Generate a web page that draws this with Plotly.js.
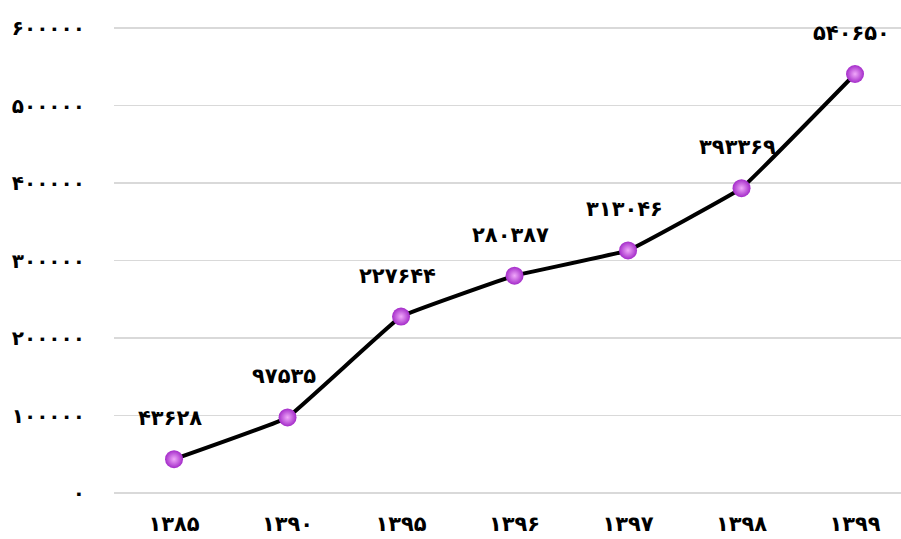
<!DOCTYPE html>
<html>
<head>
<meta charset="utf-8">
<script src="https://cdn.plot.ly/plotly-3.0.1.min.js"></script>
<style>html,body{margin:0;padding:0;background:#fff;}#chart{width:901px;height:539px;}</style>
</head>
<body>
<div id="chart"></div>
<script>
const years = ["۱۳۸۵", "۱۳۹۰", "۱۳۹۵", "۱۳۹۶", "۱۳۹۷", "۱۳۹۸", "۱۳۹۹"];
const values = [43628, 97535, 227644, 280387, 313046, 393369, 540650];
const yTickVals = [0, 100000, 200000, 300000, 400000, 500000, 600000];
const yTickText = ["۰", "۱۰۰۰۰۰", "۲۰۰۰۰۰", "۳۰۰۰۰۰", "۴۰۰۰۰۰", "۵۰۰۰۰۰", "۶۰۰۰۰۰"];

const fa = n => String(n).replace(/[0-9]/g, d => "۰۱۲۳۴۵۶۷۸۹"[+d]);
const FONT = "DejaVu Sans";

const trace = {
  x: years,
  y: values,
  type: "scatter",
  mode: "lines+markers",
  line: {color: "#000000", width: 4, shape: "spline", smoothing: 0.2},
  marker: {size: 18, color: "#a42bc9", gradient: {type: "radial", color: "#f0a8fa"}, line: {width: 0}},
  hoverinfo: "skip"
};

const annotations = years.map((yr, i) => ({
  x: yr, y: values[i], xref: "x", yref: "y",
  text: "<b>" + fa(values[i]) + "</b>",
  showarrow: false, xshift: -4, yshift: 41,
  font: {family: FONT, size: 21, color: "#000"}
}));

const layout = {
  width: 901, height: 539,
  margin: {l: 114, r: 0, t: 20, b: 40},
  paper_bgcolor: "#fff", plot_bgcolor: "#fff",
  showlegend: false,
  xaxis: {
    type: "category", range: [-0.529, 6.405],
    showgrid: false, zeroline: false, showline: false, ticks: "",
    tickfont: {family: FONT, size: 21, color: "#000", weight: "bold"},
    ticklabelstandoff: 10
  },
  yaxis: {
    range: [-7742, 610323],
    tickvals: yTickVals, ticktext: yTickText,
    showgrid: true, gridcolor: "#d9d9d9", gridwidth: 1.5,
    zeroline: false, showline: false, ticks: "",
    tickfont: {family: FONT, size: 20, color: "#000", weight: "bold"},
    ticklabelstandoff: 28
  },
  annotations: annotations
};

Plotly.newPlot("chart", [trace], layout, {displayModeBar: false, staticPlot: true});
</script>
</body>
</html>
